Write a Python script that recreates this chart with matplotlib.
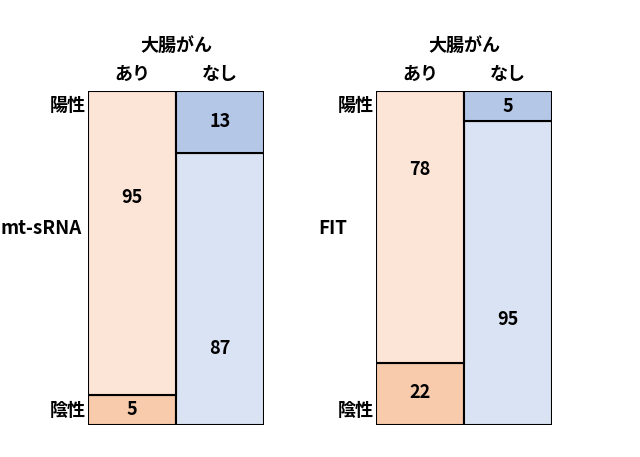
import matplotlib
matplotlib.use("Agg")
import matplotlib.pyplot as plt

plt.rcParams['font.family'] = ['Noto Sans CJK JP', 'DejaVu Sans']

# === Données ===
tests = ['mt-sRNA', 'FIT']
groups = ['あり', 'なし']
positive = {'mt-sRNA': [95, 13], 'FIT': [78, 5]}
negative = {'mt-sRNA': [5, 87], 'FIT': [22, 95]}
header = '大腸がん'
row_labels = ['陽性', '陰性']

# drawn segment heights (%), the picture is schematic, not to scale
pos_height = {'mt-sRNA': [91, 18.6], 'FIT': [81.4, 9]}
neg_height = {'mt-sRNA': [9, 81.4], 'FIT': [18.6, 91]}

# where the numbers sit (data y)
pos_label_y = {'mt-sRNA': [68, 91], 'FIT': [76.6, 95.5]}
neg_label_y = {'mt-sRNA': [4.5, 23], 'FIT': [9.6, 31.7]}

colors_pos = ['#FCE4D6', '#B4C7E7']
colors_neg = ['#F8CBAD', '#DAE3F3']

fig = plt.figure(figsize=(6.4, 4.57), dpi=100)
lefts = [88 / 640, 376 / 640]
label_x = [1 / 640, 318 / 640]
bottom = 32 / 457
height = 334 / 457
width = 176 / 640
fs = 13

for i, test in enumerate(tests):
    ax = fig.add_axes([lefts[i], bottom, width, height])
    x = [0.5, 1.5]
    ax.bar(x, neg_height[test], width=1, color=colors_neg, edgecolor='black', linewidth=1.5)
    ax.bar(x, pos_height[test], width=1, bottom=neg_height[test], color=colors_pos,
           edgecolor='black', linewidth=1.5)
    for j in range(2):
        ax.text(x[j], neg_label_y[test][j], str(negative[test][j]),
                ha='center', va='center', fontsize=fs, fontweight='bold')
        ax.text(x[j], pos_label_y[test][j], str(positive[test][j]),
                ha='center', va='center', fontsize=fs, fontweight='bold')
    ax.set_xlim(0, 2)
    ax.set_ylim(0, 100)
    ax.axis('off')

    # en-têtes
    ax.text(0.5, 1.138, header, transform=ax.transAxes, ha='center', va='center',
            fontsize=fs, fontweight='bold')
    for j, g in enumerate(groups):
        ax.text(x[j] / 2, 1.049, g, transform=ax.transAxes, ha='center', va='center',
                fontsize=fs, fontweight='bold')
    ax.text(-0.01, 0.957, row_labels[0], transform=ax.transAxes, ha='right', va='center',
            fontsize=fs, fontweight='bold')
    ax.text(-0.01, 0.045, row_labels[1], transform=ax.transAxes, ha='right', va='center',
            fontsize=fs, fontweight='bold')
    fig.text(label_x[i], 1 - 228 / 457, test, ha='left', va='center',
             fontsize=fs + 0.5, fontweight='bold')

fig.savefig('out.png', dpi=100)
